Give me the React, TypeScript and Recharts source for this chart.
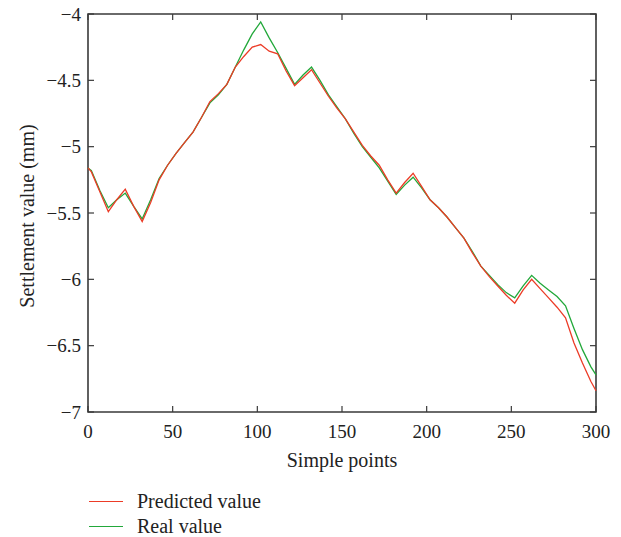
import { Line, LineChart, ReferenceArea, XAxis, YAxis } from 'recharts';

const samplePoints = [
	0, 2, 7, 12, 17, 22, 27, 32, 37, 42, 47, 52, 57, 62, 67, 72, 77, 82, 87, 92, 97, 102, 107, 112, 117, 122, 127, 132,
	137, 142, 147, 152, 157, 162, 167, 172, 177, 182, 187, 192, 197, 202, 207, 212, 217, 222, 227, 232, 237, 242, 247,
	252, 257, 262, 267, 272, 277, 282, 287, 292, 297, 300
];

const predictedValues = [
	-5.16, -5.19, -5.34, -5.49, -5.4, -5.32, -5.45, -5.565, -5.42, -5.25, -5.14, -5.05, -4.97, -4.89, -4.78, -4.66, -4.6,
	-4.53, -4.4, -4.32, -4.25, -4.23, -4.28, -4.3, -4.43, -4.54, -4.48, -4.42, -4.52, -4.62, -4.71, -4.79, -4.89, -4.99,
	-5.07, -5.14, -5.25, -5.35, -5.27, -5.2, -5.3, -5.4, -5.46, -5.53, -5.61, -5.69, -5.8, -5.9, -5.98, -6.05, -6.12, -6.18,
	-6.08, -6.0, -6.07, -6.14, -6.21, -6.29, -6.48, -6.63, -6.77, -6.84
];

const realValues = [
	-5.16, -5.18, -5.33, -5.46, -5.4, -5.35, -5.45, -5.545, -5.4, -5.24, -5.14, -5.05, -4.97, -4.89, -4.78, -4.67, -4.61,
	-4.53, -4.4, -4.27, -4.15, -4.06, -4.18, -4.29, -4.41, -4.53, -4.46, -4.4, -4.5, -4.61, -4.7, -4.79, -4.9, -5.0, -5.08,
	-5.16, -5.26, -5.36, -5.29, -5.23, -5.31, -5.4, -5.46, -5.53, -5.61, -5.69, -5.79, -5.9, -5.97, -6.04, -6.1, -6.14,
	-6.05, -5.97, -6.03, -6.08, -6.13, -6.2, -6.37, -6.53, -6.66, -6.72
];

const xTicks = [0, 50, 100, 150, 200, 250, 300];
const yTicks = [-7, -6.5, -6, -5.5, -5, -4.5, -4];

const data = samplePoints.map((p, i) => ({ p, predicted: predictedValues[i], real: realValues[i] }));

const FONT = '"Liberation Serif", "DejaVu Serif", serif';
const FRAME = '#3a3a3a';
const TEXT = '#222';
const RED = '#ec3b26';
const GREEN = '#22a83a';

const W = 621;
const H = 537;
const PLOT_TOP = 14;
const PLOT_RIGHT = 596;
const TICK_LEN = 6;
const X_MARGIN = 13;
const Y_MARGIN = 7;

const fmtY = (v: number) => (v < 0 ? '\u2212' + Math.abs(v) : String(v));

const XTick = (props: any) => {
	const { x, y, payload } = props;
	const axisY = y - X_MARGIN;
	return (
		<g>
			<line x1={x} x2={x} y1={axisY} y2={axisY - TICK_LEN} stroke={FRAME} strokeWidth={1.2} />
			<line x1={x} x2={x} y1={PLOT_TOP} y2={PLOT_TOP + TICK_LEN} stroke={FRAME} strokeWidth={1.2} />
			<text x={x} y={y} dy='0.71em' textAnchor='middle' fill={TEXT} fontSize={19} fontFamily={FONT}>
				{payload.value}
			</text>
		</g>
	);
};

const YTick = (props: any) => {
	const { x, y, payload } = props;
	const axisX = x + Y_MARGIN;
	return (
		<g>
			<line x1={axisX} x2={axisX + TICK_LEN} y1={y} y2={y} stroke={FRAME} strokeWidth={1.2} />
			<line x1={PLOT_RIGHT} x2={PLOT_RIGHT - TICK_LEN} y1={y} y2={y} stroke={FRAME} strokeWidth={1.2} />
			<text x={x} y={y} dy='0.35em' textAnchor='end' fill={TEXT} fontSize={19} fontFamily={FONT}>
				{fmtY(payload.value)}
			</text>
		</g>
	);
};

const legendItems = [
	{ name: 'Predicted value', color: RED, top: 501 },
	{ name: 'Real value', color: GREEN, top: 526 }
];

export default function App() {
	return (
		<div style={{ position: 'absolute', left: 0, top: 0, width: W, height: H, background: '#fff' }}>
			<LineChart width={W} height={H} data={data} margin={{ top: PLOT_TOP, right: W - PLOT_RIGHT, bottom: 0, left: 0 }}>
				<XAxis
					dataKey='p'
					type='number'
					domain={[0, 300]}
					ticks={xTicks}
					height={125}
					axisLine={false}
					tickLine={false}
					tickSize={0}
					tickMargin={X_MARGIN}
					tick={XTick}
					interval={0}
					label={({ viewBox }: any) => (
						<text
							x={viewBox.x + viewBox.width / 2}
							y={viewBox.y + 41}
							dy='0.71em'
							textAnchor='middle'
							fill={TEXT}
							fontSize={20}
							fontFamily={FONT}
						>
							Simple points
						</text>
					)}
				/>
				<YAxis
					type='number'
					domain={[-7, -4]}
					ticks={yTicks}
					width={88}
					axisLine={false}
					tickLine={false}
					tickSize={0}
					tickMargin={Y_MARGIN}
					tick={YTick}
					interval={0}
					label={({ viewBox }: any) => (
						<text
							x={27}
							y={viewBox.y + viewBox.height / 2 + 3}
							transform={`rotate(-90, 27, ${viewBox.y + viewBox.height / 2 + 3})`}
							textAnchor='middle'
							dominantBaseline='central'
							fill={TEXT}
							fontSize={20}
							fontFamily={FONT}
						>
							Settlement value (mm)
						</text>
					)}
				/>
				<Line type='linear' dataKey='real' stroke={GREEN} strokeWidth={1.3} dot={false} isAnimationActive={false} />
				<Line type='linear' dataKey='predicted' stroke={RED} strokeWidth={1.3} dot={false} isAnimationActive={false} />
				<ReferenceArea x1={0} x2={300} y1={-7} y2={-4} fill='none' stroke={FRAME} strokeWidth={1.6} ifOverflow='visible' />
			</LineChart>
			{legendItems.map(item => (
				<div
					key={item.name}
					style={{
						position: 'absolute',
						left: 89,
						top: item.top - 12,
						height: 24,
						display: 'flex',
						alignItems: 'center',
						fontFamily: FONT,
						fontSize: 20,
						color: TEXT
					}}
				>
					<span style={{ display: 'inline-block', width: 34, height: 0, borderTop: `1.5px solid ${item.color}` }} />
					<span style={{ marginLeft: 14, lineHeight: '24px' }}>{item.name}</span>
				</div>
			))}
		</div>
	);
}
